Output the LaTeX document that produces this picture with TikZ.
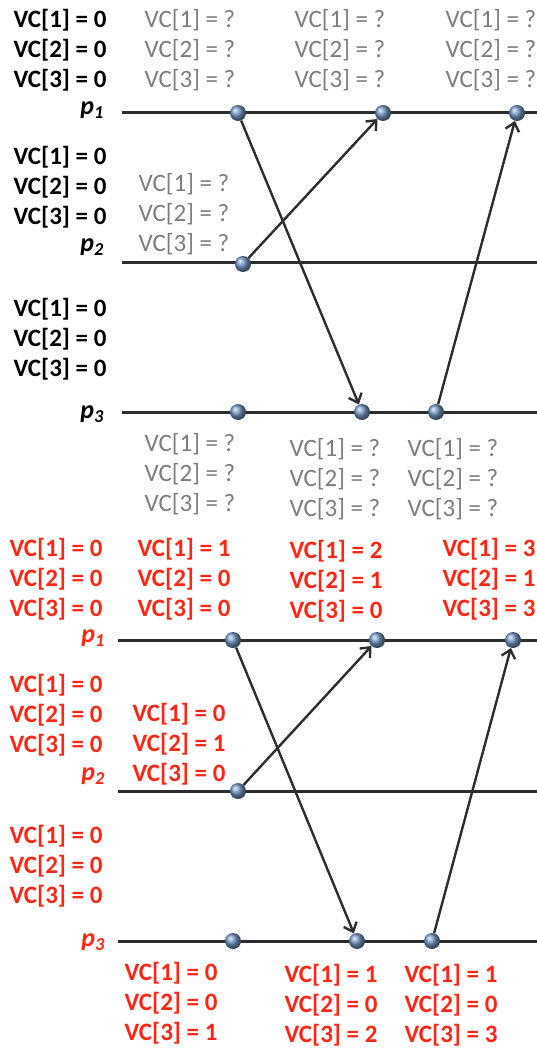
\documentclass[tikz,border=0pt]{standalone}
\usepackage{fontspec}
\setmainfont{Carlito}
\usetikzlibrary{arrows.meta}
\definecolor{vcgray}{RGB}{125,125,125}
\definecolor{vcred}{RGB}{255,38,20}
\definecolor{linegray}{RGB}{45,45,45}
\definecolor{dotblue}{RGB}{115,150,195}
\tikzset{
  vc/.style={align=left, inner sep=0pt},
  known/.style={vc, font=\fontsize{25}{30}\selectfont\bfseries, text=black},
  unknown/.style={vc, font=\fontsize{25}{30}\selectfont, text=vcgray},
  hot/.style={vc, font=\fontsize{25}{30}\selectfont\bfseries, text=vcred},
  plabel/.style={font=\fontsize{26}{26}\selectfont\bfseries\itshape, inner sep=0pt},
  timeline/.style={draw=linegray, line width=3pt},
  event/.style={circle, minimum size=16pt, inner sep=0pt, shade, ball color=dotblue},
  msg/.style={draw=linegray, line width=2.4pt,
    -{Straight Barb[length=8pt,width=14pt,line width=2.4pt]}},
}
\newcommand{\vcz}{VC[1] = 0\\VC[2] = 0\\VC[3] = 0}
\newcommand{\vcq}{VC[1] = ?\\VC[2] = ?\\VC[3] = ?}
\newcommand{\vct}[3]{VC[1] = #1\\VC[2] = #2\\VC[3] = #3}
\begin{document}
\begin{tikzpicture}[x=1pt,y=-1pt]
\useasboundingbox (0,0) rectangle (536,1048);

% ---------- upper run: vectors not yet filled in ----------
\coordinate (ts1) at (122,113); \coordinate (te1) at (540,113);
\coordinate (ts2) at (122,263); \coordinate (te2) at (540,263);
\coordinate (ts3) at (122,412); \coordinate (te3) at (540,412);
\draw[timeline] (ts1) -- (te1);
\draw[timeline] (ts2) -- (te2);
\draw[timeline] (ts3) -- (te3);

\node[plabel] (tp1) at (92,110) {p\textsubscript{1}};
\node[plabel] (tp2) at (92,247) {p\textsubscript{2}};
\node[plabel] (tp3) at (92,414) {p\textsubscript{3}};

\node[known] (k1) at (60,50) {\vcz};
\node[known] (k2) at (60,187) {\vcz};
\node[known] (k3) at (60,339) {\vcz};

\node[unknown] (u1) at (190,50) {\vcq};
\node[unknown] (u2) at (340,50) {\vcq};
\node[unknown] (u3) at (491,50) {\vcq};
\node[unknown] (u4) at (184,214) {\vcq};
\node[unknown] (u5) at (190,474) {\vcq};
\node[unknown] (u6) at (335,479) {\vcq};
\node[unknown] (u7) at (453,479) {\vcq};

\node[event] (a1) at (238,113) {};
\node[event] (a2) at (383,113) {};
\node[event] (a3) at (517,113) {};
\node[event] (b1) at (243,264) {};
\node[event] (c1) at (238,412) {};
\node[event] (c2) at (362,412) {};
\node[event] (c3) at (436,412) {};

\draw[msg] (a1) -- (c2);
\draw[msg] (b1) -- (a2);
\draw[msg] (c3) -- (a3);

% ---------- lower run: vectors filled in ----------
\coordinate (bs1) at (118,640); \coordinate (be1) at (540,640);
\coordinate (bs2) at (118,791); \coordinate (be2) at (540,791);
\coordinate (bs3) at (118,941); \coordinate (be3) at (540,941);
\draw[timeline] (bs1) -- (be1);
\draw[timeline] (bs2) -- (be2);
\draw[timeline] (bs3) -- (be3);

\node[plabel, text=vcred] (bp1) at (93,638) {p\textsubscript{1}};
\node[plabel, text=vcred] (bp2) at (93,776) {p\textsubscript{2}};
\node[plabel, text=vcred] (bp3) at (93,942) {p\textsubscript{3}};

\node[hot] (r1) at (56,579) {\vcz};
\node[hot] (r2) at (56,715) {\vcz};
\node[hot] (r3) at (56,866) {\vcz};

\node[hot] (r4) at (184,579) {\vct{1}{0}{0}};
\node[hot] (r5) at (336,581) {\vct{2}{1}{0}};
\node[hot] (r6) at (489,579) {\vct{3}{1}{3}};
\node[hot] (r7) at (179,744) {\vct{0}{1}{0}};
\node[hot] (r8) at (171,1003) {\vct{0}{0}{1}};
\node[hot] (r9) at (331,1005) {\vct{1}{0}{2}};
\node[hot] (r10) at (451,1005) {\vct{1}{0}{3}};

\node[event] (d1) at (233,640) {};
\node[event] (d2) at (377,640) {};
\node[event] (d3) at (513,640) {};
\node[event] (f1) at (238,791) {};
\node[event] (g1) at (233,941) {};
\node[event] (g2) at (357,941) {};
\node[event] (g3) at (432,941) {};

\draw[msg] (d1) -- (g2);
\draw[msg] (f1) -- (d2);
\draw[msg] (g3) -- (d3);
\end{tikzpicture}
\end{document}
